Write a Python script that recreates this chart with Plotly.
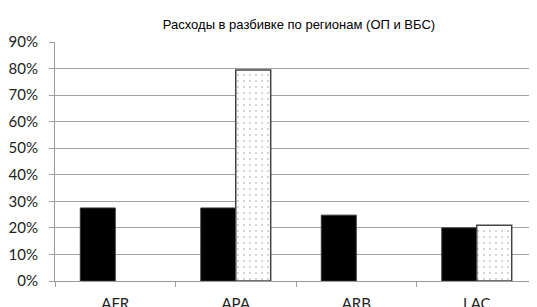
import plotly.graph_objects as go

regions = ["AFR", "APA", "ARB", "LAC"]
op_values = [0.275, 0.275, 0.248, 0.20]
vbs_values = [None, 0.795, None, 0.21]
y_ticks = [0, 0.1, 0.2, 0.3, 0.4, 0.5, 0.6, 0.7, 0.8, 0.9]
y_labels = ["0%", "10%", "20%", "30%", "40%", "50%", "60%", "70%", "80%", "90%"]

fig = go.Figure()
fig.add_trace(go.Bar(
    x=regions, y=op_values, name="ОП",
    marker=dict(color="black", line=dict(color="#333333", width=1)),
))
fig.add_trace(go.Bar(
    x=regions, y=vbs_values, name="ВБС",
    marker=dict(color="white", line=dict(color="#444444", width=1.5),
                pattern=dict(shape=".", fgcolor="#444444", bgcolor="white",
                             size=6, solidity=0.06)),
))

# page body has an 8px default margin, so the figure is sized to fit the window
fig.update_layout(
    width=529, height=299,
    margin=dict(l=47, r=0, t=34, b=26),
    paper_bgcolor="white", plot_bgcolor="white",
    showlegend=False,
    barmode="group", bargap=0.42, bargroupgap=0,
    title=dict(text="Расходы в разбивке по регионам (ОП и ВБС)",
               x=0.55, xanchor="center", y=0.945, yanchor="middle",
               font=dict(family="Liberation Sans, Arial", size=13, color="black")),
    font=dict(family="Lato, Carlito, sans-serif", size=15, color="#222222"),
)
fig.update_yaxes(
    range=[0, 0.9], tickvals=y_ticks, ticktext=y_labels,
    showgrid=True, gridcolor="#a0a0a0", gridwidth=1,
    showline=True, linecolor="#999999", linewidth=1,
    ticks="outside", ticklen=5, tickcolor="#a0a0a0",
    ticklabelstandoff=8, automargin=False,
    zeroline=False, tickfont=dict(size=15, color="#222222"),
)
fig.update_xaxes(
    range=[-0.5, 3.5],
    showline=True, linecolor="#999999", linewidth=1,
    ticks="outside", tickson="boundaries", ticklen=5, tickcolor="#a0a0a0",
    ticklabelstandoff=9, automargin=False,
    showgrid=False, tickfont=dict(size=15, color="#222222"),
)

fig.write_html("out.html")
